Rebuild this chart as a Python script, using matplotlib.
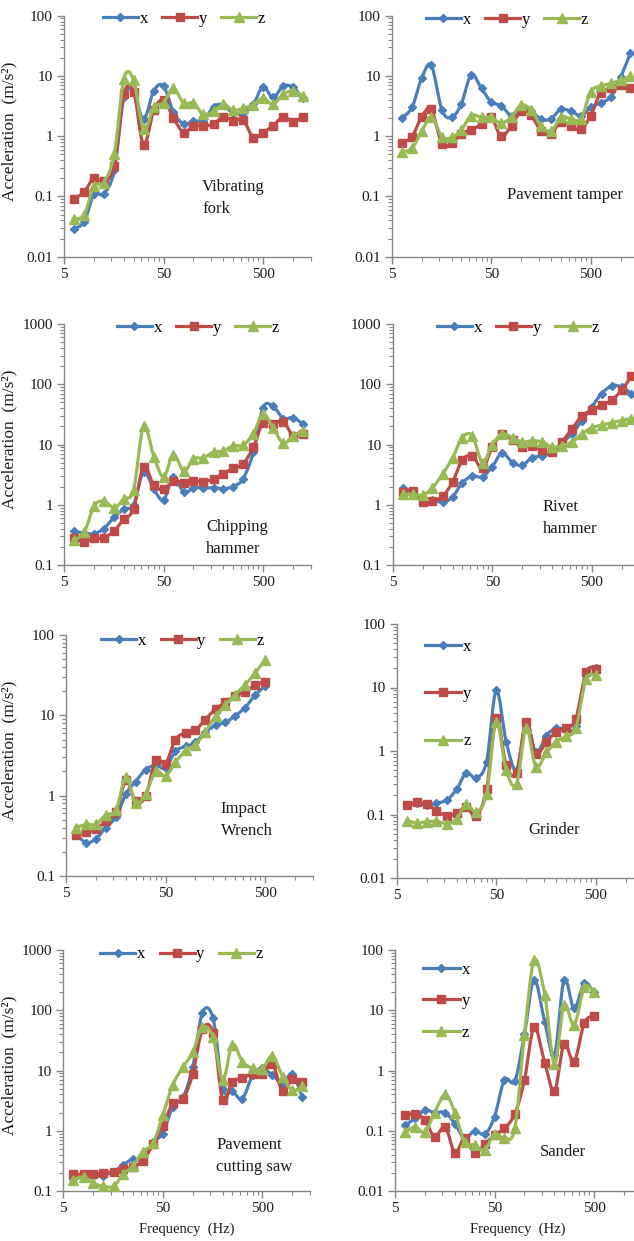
import numpy as np
import matplotlib.pyplot as plt
from matplotlib.path import Path
from matplotlib.patches import PathPatch
from matplotlib.lines import Line2D
from matplotlib.ticker import FixedLocator, LogLocator, NullFormatter, FuncFormatter

plt.rcParams['font.family'] = ['Liberation Serif', 'DejaVu Serif']

# 1/3 octave band centre frequencies (Hz)
freq = [6.3, 8, 10, 12.5, 16, 20, 25, 31.5, 40, 50, 63, 80, 100, 125, 160,
        200, 250, 315, 400, 500, 630, 800, 1000, 1250]

# acceleration (m/s^2) per axis
fork_x = [0.029, 0.038, 0.11, 0.11, 0.27, 4.4, 5.5, 1.9, 5.7, 6.8, 2.5, 1.6,
          1.8, 1.8, 3.1, 3.3, 2.4, 2.4, 3.4, 6.6, 4.4, 6.8, 6.5, 4.3]
fork_y = [0.09, 0.12, 0.2, 0.18, 0.32, 5.0, 5.5, 0.72, 2.7, 4.0, 2.0, 1.15,
          1.5, 1.45, 1.6, 2.1, 1.8, 1.85, 0.95, 1.15, 1.5, 2.1, 1.75, 2.1]
fork_z = [0.042, 0.05, 0.15, 0.17, 0.5, 9.0, 8.5, 1.3, 3.0, 3.6, 6.2, 3.5,
          3.6, 2.3, 2.6, 3.4, 2.7, 2.9, 3.3, 4.3, 3.4, 5.0, 5.6, 4.6]

tamper_x = [2.0, 3.0, 9.2, 15, 2.7, 2.05, 3.4, 10.4, 6.2, 3.7, 3.2, 2.2,
            2.8, 2.6, 1.9, 1.95, 2.8, 2.6, 2.2, 3.0, 3.6, 4.5, 9.5, 24]
tamper_y = [0.78, 0.98, 2.1, 2.8, 0.74, 0.76, 1.1, 1.27, 1.6, 2.05, 1.0, 1.5,
            2.6, 2.25, 1.2, 1.1, 1.75, 1.45, 1.3, 2.2, 5.2, 6.2, 7.1, 6.2]
tamper_z = [0.55, 0.63, 1.2, 2.1, 0.96, 0.96, 1.27, 2.2, 2.05, 2.05, 1.65, 2.1,
            3.3, 2.75, 1.45, 1.2, 2.05, 1.95, 1.95, 5.5, 6.8, 7.5, 8.6, 9.8]

chip_x = [0.36, 0.34, 0.33, 0.4, 0.62, 0.85, 1.0, 3.5, 1.8, 1.2, 2.9, 1.6,
          1.9, 1.9, 1.9, 1.85, 2.0, 2.7, 7.5, 41, 43, 27, 28, 22]
chip_y = [0.28, 0.24, 0.28, 0.28, 0.37, 0.58, 0.85, 4.3, 2.1, 1.8, 2.5, 2.3,
          2.5, 2.4, 2.7, 3.3, 4.0, 4.8, 9.0, 23, 22, 24, 14, 15]
chip_z = [0.26, 0.35, 0.95, 1.15, 0.9, 1.25, 1.75, 20, 6.3, 2.9, 6.8, 3.6,
          5.8, 6.0, 7.5, 7.8, 9.5, 9.8, 15, 32, 19, 10.5, 14, 16.5]

rivet_x = [1.9, 1.6, 1.15, 1.2, 1.1, 1.35, 2.3, 3.0, 2.9, 4.3, 7.2, 5.0,
           4.5, 6.0, 6.5, 7.5, 10.5, 15, 25, 42, 70, 95, 90, 70]
rivet_y = [1.6, 1.7, 1.1, 1.15, 1.4, 2.4, 5.5, 6.5, 4.0, 9.0, 15, 12,
           9.0, 9.5, 8.0, 7.5, 11, 18, 30, 37, 45, 55, 80, 135]
rivet_z = [1.5, 1.5, 1.45, 1.9, 3.3, 6.0, 13, 14, 5.0, 10, 15, 13,
           11, 11.5, 11, 9.0, 9.5, 11, 15, 19, 21, 23, 25, 27]

wrench_x = [0.33, 0.26, 0.29, 0.40, 0.55, 1.05, 1.5, 2.1, 2.4, 2.2, 3.6, 4.1,
            4.6, 6.2, 7.5, 8.2, 9.8, 12.5, 18, 23]
wrench_y = [0.32, 0.35, 0.38, 0.48, 0.62, 1.55, 0.85, 0.98, 2.8, 2.5, 5.0, 6.1,
            6.6, 8.8, 12, 14.5, 17.5, 19.5, 24, 26]
wrench_z = [0.40, 0.44, 0.44, 0.57, 0.67, 1.7, 0.80, 1.05, 2.0, 1.75, 2.6, 3.7,
            4.3, 6.2, 9.8, 13.5, 18, 24, 34, 49]

grind_x = [0.14, 0.15, 0.14, 0.15, 0.17, 0.25, 0.45, 0.38, 0.68, 9.0, 1.4, 0.5,
           2.8, 0.95, 1.75, 2.3, 2.2, 2.5, 17, 20]
grind_y = [0.14, 0.155, 0.145, 0.115, 0.095, 0.105, 0.13, 0.095, 0.25, 3.3, 0.6, 0.45,
           2.9, 0.9, 1.4, 2.0, 2.3, 3.2, 17.5, 19.5]
grind_z = [0.08, 0.074, 0.077, 0.078, 0.072, 0.085, 0.145, 0.11, 0.21, 2.9, 0.5, 0.3,
           2.3, 0.57, 0.95, 1.4, 1.7, 2.3, 13.5, 15.5]

saw_x = [0.16, 0.17, 0.18, 0.18, 0.21, 0.27, 0.34, 0.33, 0.65, 0.9, 2.5, 3.6,
         11.5, 91, 73, 5.0, 4.5, 3.4, 8.4, 10.8, 8.4, 6.1, 8.9, 3.7]
saw_y = [0.19, 0.19, 0.19, 0.2, 0.21, 0.23, 0.25, 0.32, 0.6, 1.2, 2.85, 3.4,
         8.9, 48, 42, 3.25, 6.5, 7.4, 8.9, 8.9, 13, 4.5, 7.2, 6.4]
saw_z = [0.155, 0.17, 0.135, 0.12, 0.12, 0.19, 0.26, 0.45, 0.62, 1.8, 5.8, 11.5,
         20, 52, 36, 6.9, 27, 14, 10.8, 10.5, 17.5, 7.9, 4.7, 5.5]

sand_x = [0.125, 0.16, 0.22, 0.2, 0.2, 0.13, 0.075, 0.1, 0.088, 0.17, 0.70, 0.67,
          4.0, 32, 6.4, 1.8, 32, 10.8, 28, 20]
sand_y = [0.18, 0.19, 0.15, 0.08, 0.115, 0.043, 0.075, 0.043, 0.06, 0.085, 0.11, 0.19,
          0.70, 5.2, 1.35, 0.45, 2.75, 1.4, 6.2, 8.0]
sand_z = [0.095, 0.115, 0.095, 0.2, 0.4, 0.2, 0.065, 0.058, 0.048, 0.09, 0.075, 0.11,
          3.9, 67, 18, 1.3, 12.2, 5.7, 24, 20]

names = ['Vibrating\nfork', 'Pavement tamper', 'Chipping\nhammer', 'Rivet\nhammer',
         'Impact\nWrench', 'Grinder', 'Pavement\ncutting saw', 'Sander']
series = [(fork_x, fork_y, fork_z), (tamper_x, tamper_y, tamper_z),
          (chip_x, chip_y, chip_z), (rivet_x, rivet_y, rivet_z),
          (wrench_x, wrench_y, wrench_z), (grind_x, grind_y, grind_z),
          (saw_x, saw_y, saw_z), (sand_x, sand_y, sand_z)]
ylims = [(0.01, 100), (0.01, 100), (0.1, 1000), (0.1, 1000),
         (0.1, 100), (0.01, 100), (0.1, 1000), (0.01, 100)]
labels = ['x', 'y', 'z']
colors = ['#4a7ebb', '#be4b48', '#98b954']
markers = [('D', 4.5), ('s', 6), ('^', 6.5)]

# axes boxes in pixels: left, top, width, height
W, H = 634, 1241
boxes = [(64, 15.7, 246.5, 241), (391.7, 15.7, 246.5, 241),
         (64, 324, 246.5, 241), (392.7, 324, 246.5, 241),
         (66, 635, 246.5, 241), (396.7, 624, 246.5, 254),
         (63.3, 950, 246.5, 241), (395, 950, 246.5, 241)]
name_pos = [(0.56, 0.243), (0.468, 0.256), (0.576, 0.11), (0.608, 0.195),
            (0.628, 0.232), (0.533, 0.19), (0.62, 0.144), (0.588, 0.163)]
leg_pos = [(0.487, 0.986), (0.468, 0.982), (0.544, 0.983), (0.508, 0.983),
           (0.473, 0.976), (0.08, 0.975), (0.48, 0.982), (0.08, 0.985)]


def smooth_line(ax, f, v, color, z):
    # Excel-like smoothed line: Catmull-Rom bezier in log-log space
    pts = np.column_stack([np.log10(f), np.log10(v)])
    n = len(pts)
    verts = [pts[0]]
    codes = [Path.MOVETO]
    for i in range(n - 1):
        p0 = pts[max(i - 1, 0)]
        p1 = pts[i]
        p2 = pts[i + 1]
        p3 = pts[min(i + 2, n - 1)]
        verts += [p1 + (p2 - p0) / 6, p2 - (p3 - p1) / 6, p2]
        codes += [Path.CURVE4] * 3
    verts = 10 ** np.array(verts)
    ax.add_patch(PathPatch(Path(verts, codes), facecolor='none', edgecolor=color,
                           lw=2.3, zorder=z, joinstyle='round', capstyle='round'))


fig = plt.figure(figsize=(W / 100, H / 100), dpi=100)
fmt = FuncFormatter(lambda v, p: f'{v:g}')

for i in range(8):
    l, t, w, h = boxes[i]
    ax = fig.add_axes([l / W, 1 - (t + h) / H, w / W, h / H])
    ax.set_xscale('log')
    ax.set_yscale('log')
    ax.set_xlim(5, 1500)
    ax.set_ylim(*ylims[i])

    for k in range(3):
        vals = series[i][k]
        f = freq[:len(vals)]
        smooth_line(ax, f, vals, colors[k], 2 + k)
        m, ms = markers[k]
        ax.plot(f, vals, ls='none', marker=m, ms=ms, color=colors[k], zorder=2.5 + k)

    ax.xaxis.set_major_locator(FixedLocator([5, 50, 500]))
    ax.xaxis.set_minor_locator(FixedLocator([5 * k * 10 ** n for n in range(3) for k in range(2, 10)]))
    ax.xaxis.set_major_formatter(fmt)
    ax.xaxis.set_minor_formatter(NullFormatter())
    ax.yaxis.set_major_locator(LogLocator(base=10, numticks=10))
    ax.yaxis.set_minor_locator(LogLocator(base=10, subs=range(2, 10), numticks=20))
    ax.yaxis.set_major_formatter(fmt)
    ax.yaxis.set_minor_formatter(NullFormatter())

    for s in ['top', 'right']:
        ax.spines[s].set_visible(False)
    for s in ['left', 'bottom']:
        ax.spines[s].set_color('#868686')
        ax.spines[s].set_linewidth(1.0)
    ax.tick_params(which='major', length=5, width=1.0, color='#868686',
                   labelsize=11, labelcolor='#1a1a1a', pad=3)
    ax.tick_params(which='minor', length=3, width=0.8, color='#868686')

    ax.text(name_pos[i][0], name_pos[i][1], names[i], transform=ax.transAxes,
            fontsize=12, color='#1a1a1a', ha='left', va='center', linespacing=1.5)

    handles = [Line2D([], [], color=colors[k], lw=2.3, marker=markers[k][0],
                      ms=markers[k][1]) for k in range(3)]
    if i in (5, 7):
        # vertical legend in the upper left corner
        sp = 1.88 if i == 5 else 0.92
        ax.legend(handles, labels, loc='upper left', bbox_to_anchor=leg_pos[i],
                  ncol=1, frameon=False, fontsize=12, handlelength=2.2,
                  handletextpad=0.1, labelspacing=sp, borderpad=0)
    else:
        ax.legend(handles, labels, loc='center', bbox_to_anchor=leg_pos[i], ncol=3,
                  frameon=False, fontsize=12, handlelength=2.1, handletextpad=0.1,
                  columnspacing=0.85, borderpad=0)

    if i % 2 == 0:
        ax.set_ylabel('Acceleration  (m/s²)', fontsize=12.5, color='#1a1a1a')
        ax.yaxis.set_label_coords((17 - l) / w, 0.52)
    if i >= 6:
        ax.set_xlabel('Frequency  (Hz)', fontsize=10.5, color='#1a1a1a', labelpad=5)

fig.savefig('out.png', dpi=100)
